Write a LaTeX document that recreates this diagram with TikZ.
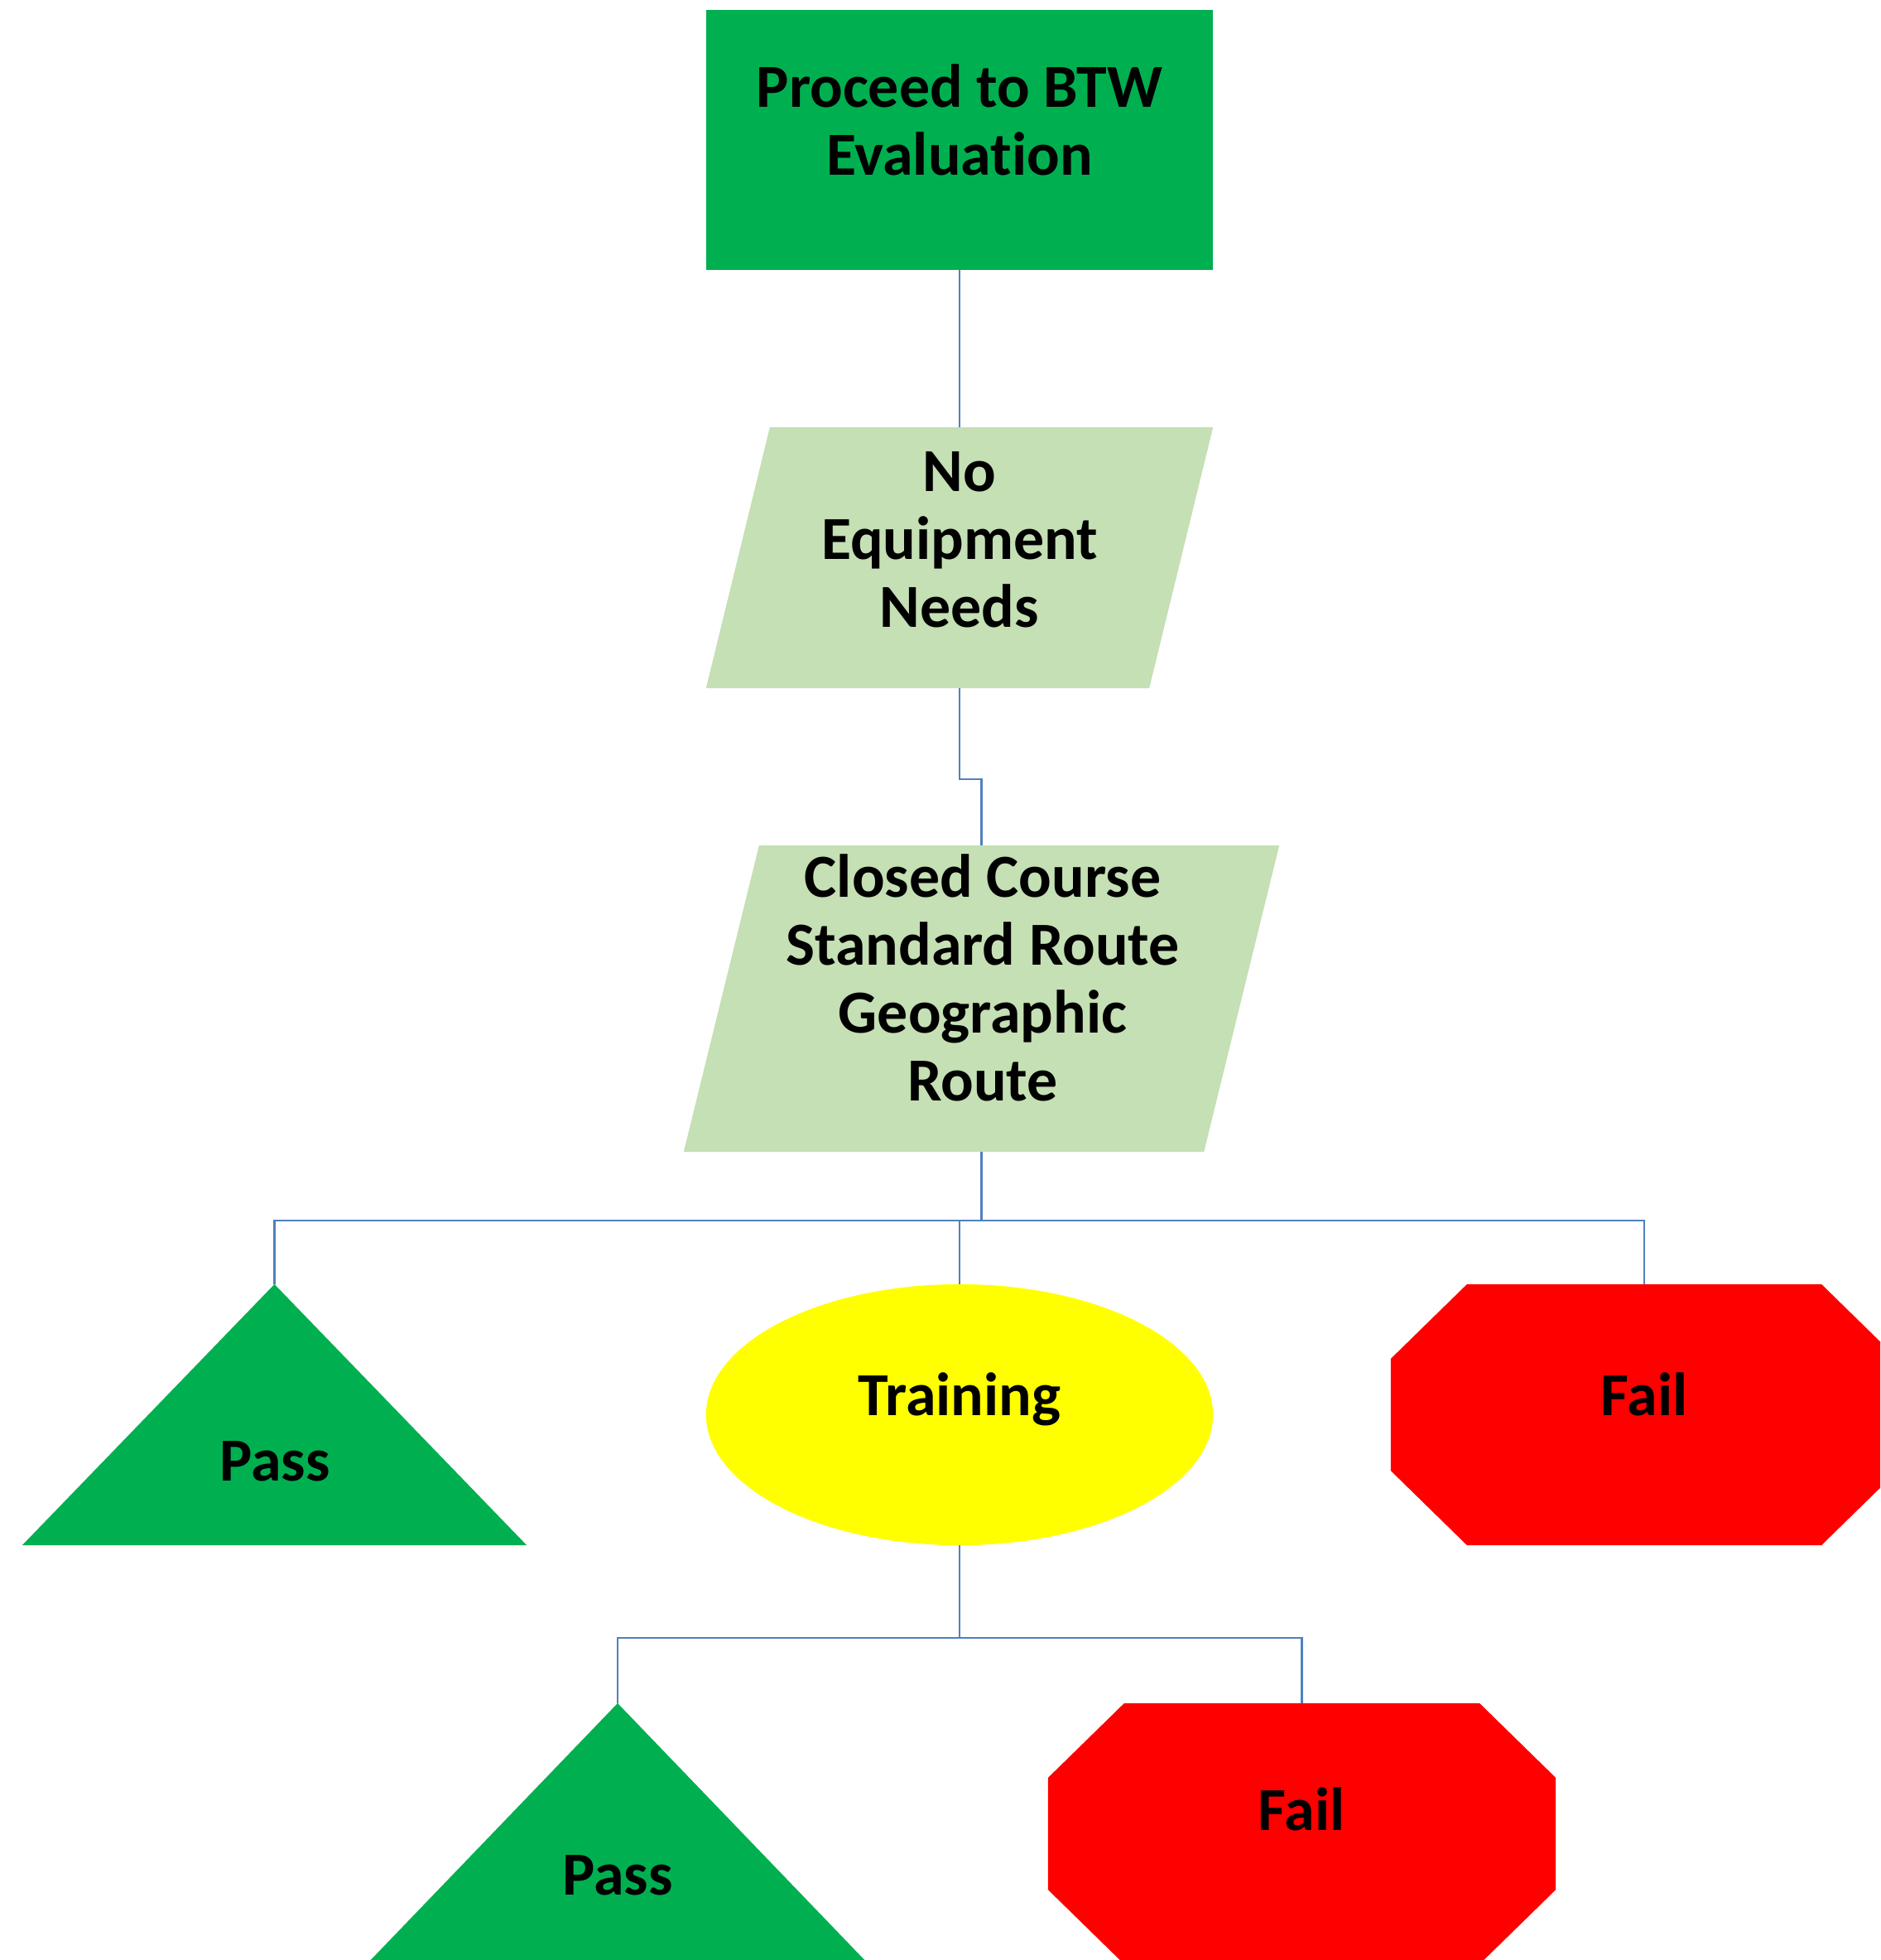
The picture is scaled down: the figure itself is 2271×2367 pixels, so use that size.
\documentclass[tikz,border=0pt]{standalone}
\usepackage{fontspec}
\setmainfont{Carlito}[Ligatures=NoCommon]
\usetikzlibrary{calc,shapes.geometric}

\definecolor{boxgreen}{HTML}{00B050}
\definecolor{palegreen}{HTML}{C5E0B4}
\definecolor{signred}{HTML}{FF0000}
\definecolor{cautionyellow}{HTML}{FFFF00}
\definecolor{linkblue}{HTML}{4F81BD}

\tikzset{
  every node/.style={inner sep=0pt, outer sep=0pt},
  txt/.style={font=\fontsize{21}{23.3}\selectfont\bfseries, align=center, text=black},
  conn/.style={draw=linkblue, line width=0.7pt},
  frame/.style 2 args={shape=rectangle, minimum width=#1cm, minimum height=#2cm},
  % parallelogram leaning right, #1 = horizontal slant in cm
  pgram/.style={path picture={
    \fill[palegreen]
      ($(path picture bounding box.north west)+(#1cm,0cm)$)
      -- (path picture bounding box.north east)
      -- ($(path picture bounding box.south east)+(-#1cm,0cm)$)
      -- (path picture bounding box.south west) -- cycle;}},
  % upward triangle filling the frame
  tri/.style={path picture={
    \fill[boxgreen]
      (path picture bounding box.south west)
      -- (path picture bounding box.north)
      -- (path picture bounding box.south east) -- cycle;}},
  % stop-sign octagon with corner cuts 0.92cm x 0.90cm
  octo/.style={path picture={
    \fill[signred]
      ($(path picture bounding box.north west)+(0.92cm,0cm)$)
      -- ($(path picture bounding box.north east)+(-0.92cm,0cm)$)
      -- ($(path picture bounding box.north east)+(0cm,-0.90cm)$)
      -- ($(path picture bounding box.south east)+(0cm,0.90cm)$)
      -- ($(path picture bounding box.south east)+(-0.92cm,0cm)$)
      -- ($(path picture bounding box.south west)+(0.92cm,0cm)$)
      -- ($(path picture bounding box.south west)+(0cm,0.90cm)$)
      -- ($(path picture bounding box.north west)+(0cm,-0.90cm)$) -- cycle;}}
}

\begin{document}
\begin{tikzpicture}[x=0.01cm, y=-0.01cm]
  \fill[white] (0,0) rectangle (2271,2367);
  \useasboundingbox (0,0) rectangle (2271,2367);
  \clip (0,0) rectangle (2271,2367);

  % shapes
  \node[frame={6.12}{3.14}, fill=boxgreen] (start) at (1159,169) {};
  \node[frame={6.12}{3.15}, pgram=0.77] (noequip) at (1159,673.5) {};
  \node[frame={7.19}{3.70}, pgram=0.91] (route) at (1185.5,1206) {};
  \node[frame={6.09}{3.15}, tri] (pass1) at (331.5,1708.5) {};
  \node[ellipse, minimum width=6.12cm, minimum height=3.15cm, fill=cautionyellow] (train) at (1159,1708.5) {};
  \node[frame={6.12}{3.15}, octo] (fail1) at (1986,1708.5) {};
  \node[frame={6.06}{3.15}, tri] (pass2) at (746,2214.5) {};
  \node[frame={6.13}{3.15}, octo] (fail2) at (1572.5,2214.5) {};

  % connectors
  \draw[conn] (start.south) -- (noequip.north);
  \draw[conn] (noequip.south) -- ++(0,110) -| (route.north);
  \coordinate (bus1) at ($(route.south)+(0,83)$);
  \draw[conn] (route.south) -- (bus1);
  \draw[conn] (pass1.north) |- (bus1) -| (fail1.north);
  \draw[conn] (bus1 -| train.north) -- (train.north);
  \coordinate (bus2) at ($(train.south)+(0,112)$);
  \draw[conn] (train.south) -- (bus2);
  \draw[conn] (pass2.north) |- (bus2) -| (fail2.north);

  % labels
  \node[txt] (t-start) at (1159,145) {Proceed to BTW\\Evaluation};
  \node[txt] (t-noequip) at (1159,651.5) {No\\Equipment\\Needs};
  \node[txt] (t-route) at (1187,1181) {Closed Course\\Standard Route\\Geographic\\Route};
  \node[txt, anchor=base] (t-pass1) at (332,1788) {Pass};
  \node[txt, anchor=base] (t-train) at (1159,1709) {Training};
  \node[txt, anchor=base] (t-fail1) at (1986,1709) {Fail};
  \node[txt, anchor=base] (t-pass2) at (746,2288) {Pass};
  \node[txt, anchor=base] (t-fail2) at (1572,2210) {Fail};
\end{tikzpicture}
\end{document}
